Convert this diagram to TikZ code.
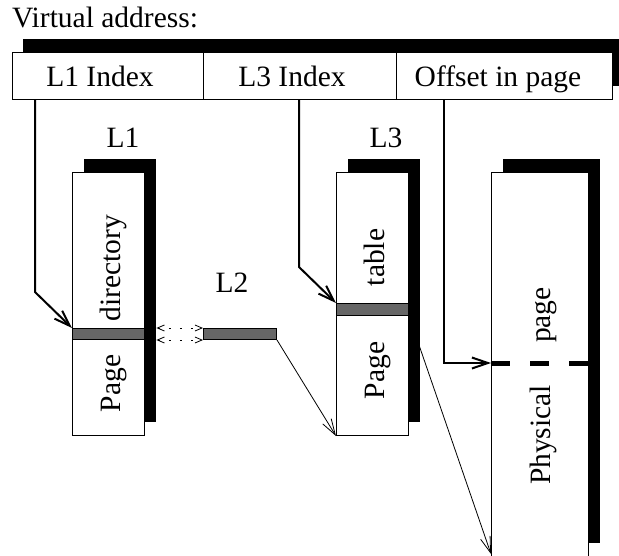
\documentclass[tikz,border=0pt]{standalone}
\usepackage{fontspec}
\setmainfont{Liberation Serif}
\usetikzlibrary{arrows.meta,calc}
\definecolor{bandgray}{RGB}{102,102,102}
\begin{document}
\begin{tikzpicture}[x=1pt,y=-1pt,
  lbl/.style={font=\fontsize{29.5}{35}\selectfont, inner sep=0pt},
  rlbl/.style={lbl, rotate=90, anchor=base},
  boxw/.style={draw, fill=white, line width=1pt, inner sep=0pt, anchor=north west},
  shadowbox/.style={fill=black, draw=none, inner sep=0pt, anchor=north west},
  band/.style={draw, fill=bandgray, line width=1pt, inner sep=0pt, anchor=north west},
  idx/.style={line width=2pt, -{Straight Barb[length=16pt,width=11pt]}},
  ptr/.style={line width=0.8pt, -{Straight Barb[length=16pt,width=10pt]}},
  link/.style={line width=0.8pt, dash pattern=on 2pt off 9pt,
    {Straight Barb[length=7pt,width=6pt]}-{Straight Barb[length=7pt,width=6pt]}},
  dashbar/.style={line width=5pt, dash pattern=on 19pt off 20pt},
]
\useasboundingbox (0,0) rectangle (619,555);

% title
\node[lbl, anchor=base west] (va) at (12,27) {Virtual address:};

% address bar
\node[shadowbox, minimum width=600pt, minimum height=47pt] (fsh) at (23,39) {};
\node[boxw, minimum width=191pt, minimum height=47pt] (f1) at (12,52) {};
\node[boxw, minimum width=193pt, minimum height=47pt] (f2) at (203,52) {};
\node[boxw, minimum width=216pt, minimum height=47pt] (f3) at (396,52) {};
\node[lbl, anchor=base] (t1) at (100,86) {L1 Index};
\node[lbl, anchor=base] (t2) at (292,86) {L3 Index};
\node[lbl, anchor=base] (t3) at (498,86) {Offset in page};

% geometry of L3 band and physical page, for the pointer under the L3 shadow
\node[band, draw=none, fill=none, minimum width=72pt, minimum height=12pt] (l3bg) at (336,303) {};
\node[boxw, draw=none, fill=none, minimum width=97pt, minimum height=384pt] (ppg) at (491,172) {};
\draw[ptr] (l3bg.south east) -- ($(ppg.south west)+(0,-3)$);

% shadows
\node[shadowbox, minimum width=72pt, minimum height=263pt] (l1sh) at (84,159) {};
\node[shadowbox, minimum width=72pt, minimum height=263pt] (l3sh) at (348,159) {};
\node[shadowbox, minimum width=97pt, minimum height=384pt] (ppsh) at (503,159) {};

% boxes
\node[boxw, minimum width=72pt, minimum height=263pt] (l1) at (72,172) {};
\node[boxw, minimum width=72pt, minimum height=263pt] (l3) at (336,172) {};
\node[boxw, minimum width=97pt, minimum height=384pt] (pp) at (491,172) {};

% bands
\node[band, minimum width=72pt, minimum height=11pt] (l1band) at (72,328) {};
\node[band, minimum width=72pt, minimum height=12pt] (l3band) at (336,303) {};
\node[band, minimum width=73pt, minimum height=11pt] (l2) at (203,328) {};

% labels
\node[lbl, anchor=base] (l1t) at (123,147) {L1};
\node[lbl, anchor=base] (l3t) at (386,147) {L3};
\node[lbl, anchor=base] (l2t) at (232,292) {L2};
\node[rlbl] (dirt) at (120,268) {directory};
\node[rlbl] (pg1t) at (120,383.5) {Page};
\node[rlbl] (tabt) at (384,257.5) {table};
\node[rlbl] (pg3t) at (384,370.5) {Page};
\node[rlbl] (pgt) at (550,315) {page};
\node[rlbl] (pht) at (550,435) {Physical};

% offset line in physical page
\coordinate (pl) at ($(pp.north west)+(0,191)$);
\coordinate (pr) at ($(pp.north east)+(0,191)$);
\draw[dashbar] (pl) -- (pr);

% index arrows
\coordinate (a1) at ($(f1.south west)+(23,0)$);
\coordinate (b1) at (35,292);
\draw[idx] (a1) -- (b1) -- (l1band.north west);
\coordinate (a3) at ($(f2.south west)+(96,0)$);
\coordinate (b3) at (299,267);
\draw[idx] (a3) -- (b3) -- (l3band.north west);
\coordinate (ao) at ($(f3.south west)+(48,0)$);
\draw[idx] (ao) |- (pl);

% L2 links
\draw[link] (l1sh.east |- l2.north) -- (l2.north west);
\draw[link] (l1sh.east |- l2.south) -- (l2.south west);
\draw[ptr] (l2.south east) -- (l3.south west);
\end{tikzpicture}
\end{document}
